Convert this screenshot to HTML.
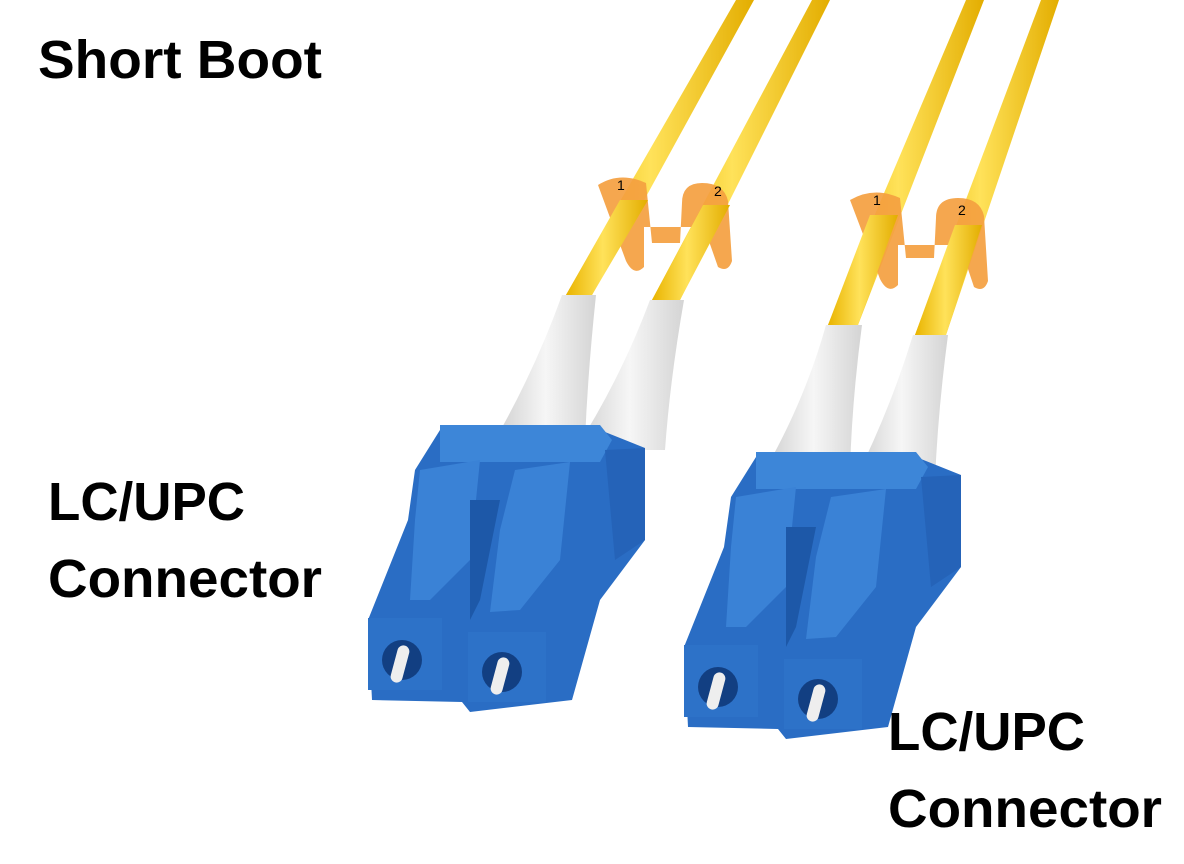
<!DOCTYPE html>
<html><head><style>
html,body{margin:0;padding:0;background:#fff;}
svg{display:block}
text{font-family:"Liberation Sans",sans-serif;font-weight:bold;fill:#000}
</style></head><body>
<svg width="1184" height="864" viewBox="0 0 1184 864">
<defs>
<linearGradient id="yel" x1="0" x2="1"><stop offset="0" stop-color="#e9b400"/><stop offset=".45" stop-color="#ffe25a"/><stop offset="1" stop-color="#e3ad00"/></linearGradient>
<linearGradient id="boot" x1="0" x2="1"><stop offset="0" stop-color="#cfcfcf"/><stop offset=".5" stop-color="#f6f6f6"/><stop offset="1" stop-color="#d4d4d4"/></linearGradient>
<g id="conn">
  <polygon points="415,470 440,430 600,430 645,448 645,540 600,600 572,700 470,712 462,702 372,700 368,620 408,520" fill="#2a6dc4"/>
  <polygon points="440,425 600,425 612,440 600,462 440,462" fill="#3d86d8"/>
  <polygon points="420,470 480,460 470,560 430,600 410,600 415,520" fill="#3a82d6"/>
  <polygon points="515,470 570,462 560,560 520,610 490,612 500,530" fill="#3a82d6"/>
  <polygon points="470,500 500,500 480,600 470,620" fill="#1d58a8"/>
  <polygon points="605,450 645,448 645,540 615,560" fill="#2563b8"/>
  <rect x="368" y="618" width="74" height="72" fill="#2d72c8"/>
  <rect x="468" y="632" width="78" height="70" fill="#2d72c8"/>
  <circle cx="402" cy="660" r="20" fill="#123f82"/>
  <circle cx="502" cy="672" r="20" fill="#123f82"/>
  <rect x="394" y="645" width="12" height="38" rx="6" fill="#eee" transform="rotate(15 400 664)"/>
  <rect x="494" y="657" width="12" height="38" rx="6" fill="#eee" transform="rotate(15 500 676)"/>
</g>
</defs>
<!-- fibers -->
<polygon points="736,0 754,0 592,295 566,295" fill="url(#yel)"/>
<polygon points="812,0 830,0 680,300 652,300" fill="url(#yel)"/>
<polygon points="966,0 984,0 858,325 828,325" fill="url(#yel)"/>
<polygon points="1041,0 1059,0 946,335 915,335" fill="url(#yel)"/>
<!-- clips -->
<g fill="#f4a040" opacity=".92">
<path d="M598,185 q22,-14 48,-2 l6,60 h28 l2,-40 q0,-20 20,-20 q22,0 26,18 l4,60 q-4,12 -14,6 l-14,-40 -60,0 0,40 q-10,10 -18,-6 z"/>
<path d="M850,200 q24,-14 50,-2 l6,60 h28 l2,-40 q0,-20 22,-20 q22,0 26,18 l4,65 q-4,12 -14,6 l-14,-42 -62,0 0,40 q-10,10 -18,-6 z"/>
</g>
<g font-family="Liberation Sans" font-size="14" fill="#222"><text x="617" y="190" style="font-weight:normal">1</text><text x="714" y="196" style="font-weight:normal">2</text><text x="873" y="205" style="font-weight:normal">1</text><text x="958" y="215" style="font-weight:normal">2</text></g>
<!-- fibers over clips -->
<polygon points="620,200 648,200 592,295 566,295" fill="url(#yel)"/>
<polygon points="703,205 730,205 680,300 652,300" fill="url(#yel)"/>
<polygon points="870,215 898,215 858,325 828,325" fill="url(#yel)"/>
<polygon points="955,225 982,225 946,335 915,335" fill="url(#yel)"/>
<!-- boots -->
<path d="M562,295 L596,295 Q588,370 585,440 L495,440 Q535,370 562,295Z" fill="url(#boot)"/>
<path d="M650,300 L684,300 Q670,380 665,450 L575,450 Q620,380 650,300Z" fill="url(#boot)"/>
<path d="M826,325 L862,325 Q852,400 850,470 L765,470 Q805,400 826,325Z" fill="url(#boot)"/>
<path d="M913,335 L948,335 Q938,410 935,480 L855,480 Q890,410 913,335Z" fill="url(#boot)"/>
<use href="#conn"/>
<use href="#conn" transform="translate(316,27)"/>
<text x="38" y="78" font-size="54" textLength="284" lengthAdjust="spacingAndGlyphs">Short Boot</text>
<text x="48" y="520" font-size="54" textLength="197" lengthAdjust="spacingAndGlyphs">LC/UPC</text>
<text x="48" y="597" font-size="54" textLength="274" lengthAdjust="spacingAndGlyphs">Connector</text>
<text x="888" y="750" font-size="54" textLength="197" lengthAdjust="spacingAndGlyphs">LC/UPC</text>
<text x="888" y="827" font-size="54" textLength="274" lengthAdjust="spacingAndGlyphs">Connector</text>
</svg>
</body></html>
